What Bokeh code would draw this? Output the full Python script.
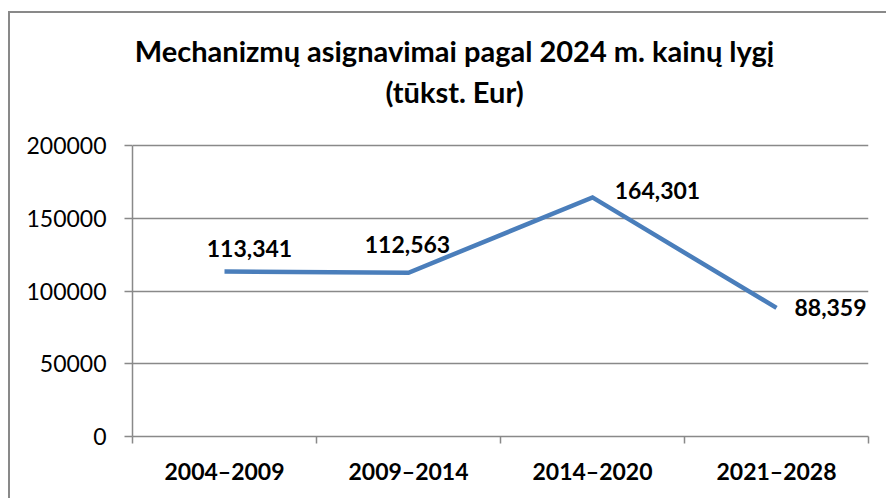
from bokeh.plotting import figure
from bokeh.models import (ColumnDataSource, FixedTicker, LabelSet, Label,
                          NumeralTickFormatter, Range1d)
from bokeh.core.properties import value
from bokeh.embed import file_html
from bokeh.resources import INLINE

# ---- data ----
categories = ["2004–2009", "2009–2014", "2014–2020", "2021–2028"]
values = [113341, 112563, 164301, 88359]
value_labels = ["113,341", "112,563", "164,301", "88,359"]
title_lines = ["Mechanizmų asignavimai pagal 2024 m. kainų lygį", "(tūkst. Eur)"]
y_ticks = [0, 50000, 100000, 150000, 200000]

FONT = "Lato"
GRAY = "#898989"
BLUE = "#4A7EBB"

# ---- layout (pixels) ----
PLOT_H = 291          # height of the 0..200000 area
FRAME_H = 423         # frame extends up to hold the title
FRAME_W = 736
y_max = y_ticks[-1]
y_end = y_max * FRAME_H / PLOT_H

xs = [i + 0.5 for i in range(len(categories))]
# label offsets (px): manual placement as in the reference
x_off = [25, -1, 65, 54]
y_off = [23, 28, 7, 0]

src = ColumnDataSource(dict(x=xs, y=values, lab=value_labels, dx=x_off, dy=y_off))

p = figure(width=876, height=487, output_backend="svg", toolbar_location=None,
           title=None,
           x_range=Range1d(0, len(categories)), y_range=Range1d(0, y_end),
           min_border_left=122, min_border_top=0, min_border_bottom=64,
           min_border_right=18, frame_width=FRAME_W, frame_height=FRAME_H)
p.styles = {"margin-left": "8px", "margin-top": "11px",
            "border-left": f"2px solid {GRAY}", "border-top": f"2px solid {GRAY}"}
p.outline_line_color = None
p.background_fill_color = "white"
p.border_fill_color = "white"

p.line("x", "y", source=src, line_color=BLUE, line_width=4.5, line_join="miter")

p.add_layout(LabelSet(x="x", y="y", text="lab", source=src, x_offset="dx", y_offset="dy",
                      text_font=value(FONT), text_font_style="bold", text_font_size="23px",
                      text_align="center", text_baseline="middle", text_color="black"))

# title (screen units)
for txt, yy in zip(title_lines, [386, 345]):
    p.add_layout(Label(x=322, y=yy, x_units="screen", y_units="screen", text=txt,
                       text_font=FONT, text_font_style="bold", text_font_size="29px",
                       text_align="center", text_baseline="alphabetic", text_color="black"))

# x axis
xa = p.xaxis[0]
xa.ticker = FixedTicker(ticks=xs, minor_ticks=list(range(len(categories) + 1)))
xa.major_label_overrides = {x: c for x, c in zip(xs, categories)}
xa.major_tick_out = 0
xa.major_tick_in = 0
xa.minor_tick_out = 7
xa.minor_tick_in = 0
xa.minor_tick_line_color = GRAY
xa.minor_tick_line_width = 1.5
xa.axis_line_color = GRAY
xa.axis_line_width = 1.5
xa.major_label_text_font = FONT
xa.major_label_text_font_style = "bold"
xa.major_label_text_font_size = "23px"
xa.major_label_text_color = "black"
xa.major_label_standoff = 13

# y axis
ya = p.yaxis[0]
ya.ticker = FixedTicker(ticks=y_ticks, minor_ticks=[])
ya.bounds = (0, y_max)
ya.formatter = NumeralTickFormatter(format="0")
ya.major_tick_out = 8
ya.major_tick_in = 0
ya.major_tick_line_color = GRAY
ya.major_tick_line_width = 1.5
ya.axis_line_color = GRAY
ya.axis_line_width = 1.5
ya.major_label_text_font = FONT
ya.major_label_text_font_size = "23px"
ya.major_label_text_color = "black"
ya.major_label_standoff = 18

p.xgrid.grid_line_color = None
p.ygrid.ticker = FixedTicker(ticks=y_ticks)
p.ygrid.grid_line_color = GRAY
p.ygrid.grid_line_width = 1.5

open("out.html", "w").write(file_html(p, INLINE))
